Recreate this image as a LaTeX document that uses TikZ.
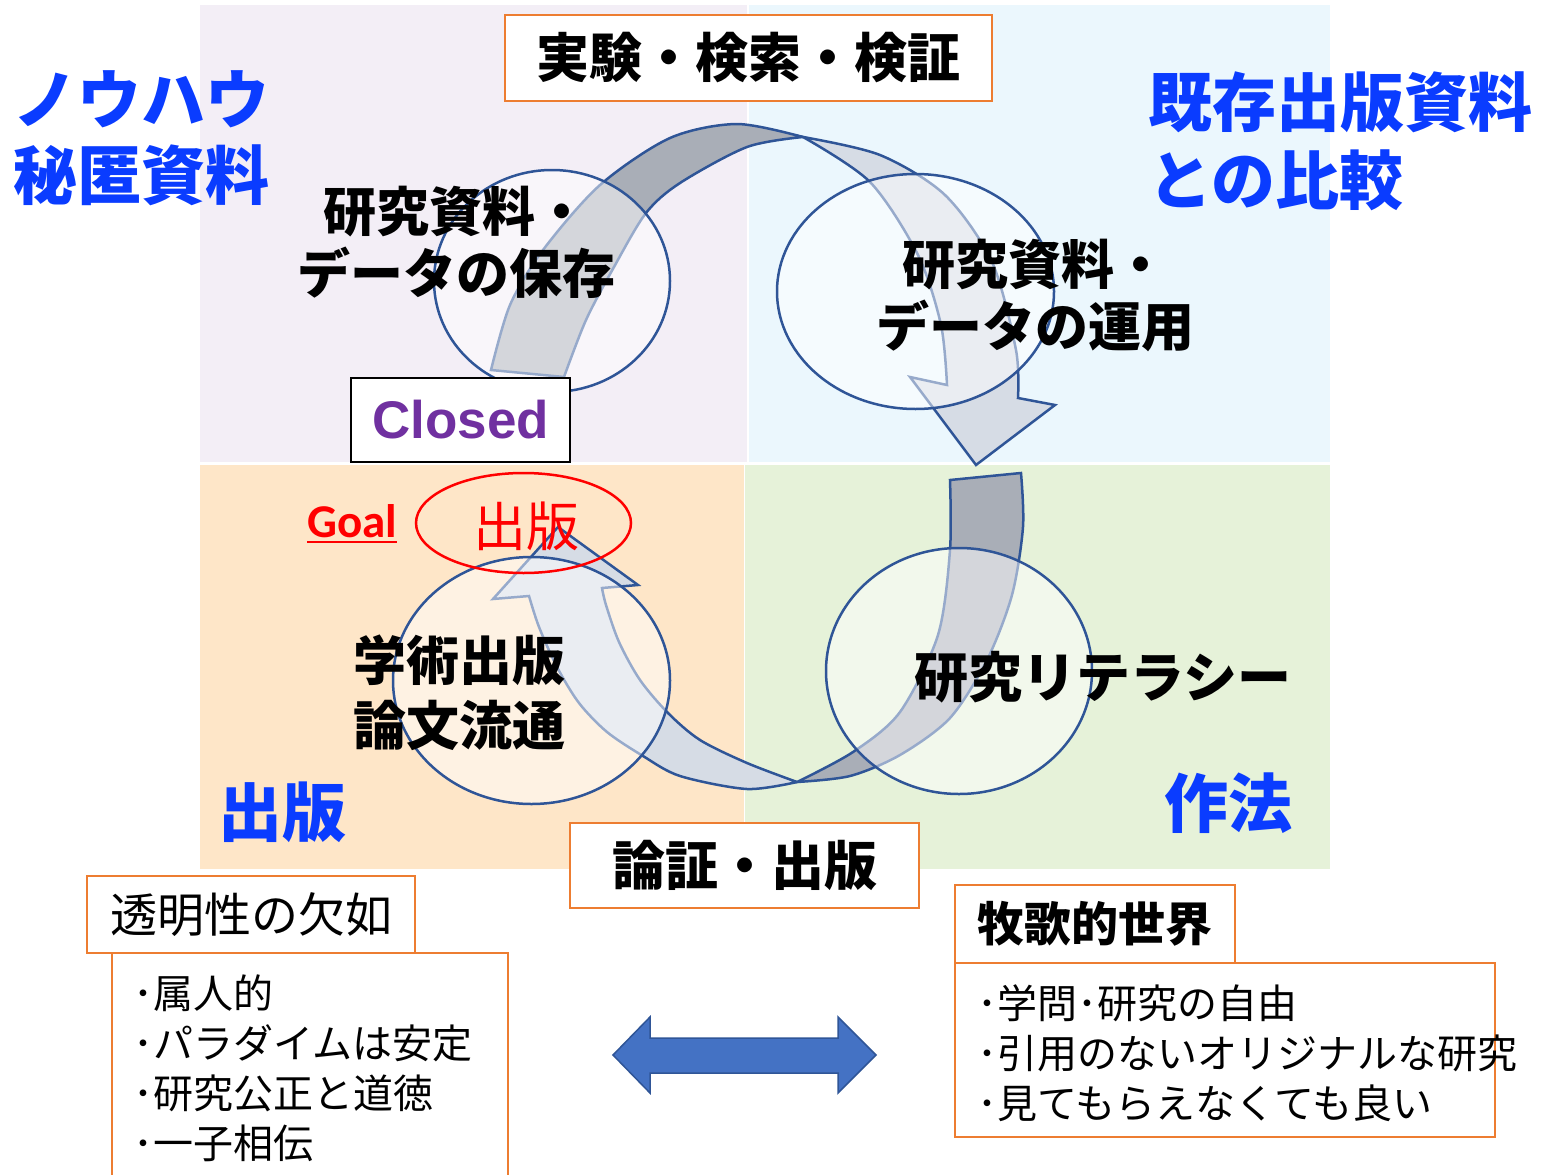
\documentclass[tikz,border=0pt]{standalone}
\usepackage{fontspec}
\setmainfont{Noto Sans CJK JP}
\newfontfamily\libsans{Liberation Sans}
\newfontfamily\carlito{Carlito}
\definecolor{bgTL}{HTML}{F3EEF6}
\definecolor{bgTR}{HTML}{EBF7FD}
\definecolor{bgBL}{HTML}{FEE6C8}
\definecolor{bgBR}{HTML}{E6F2D9}
\definecolor{lineblue}{HTML}{2F5597}
\definecolor{arrdarkc}{HTML}{A9AEB7}
\definecolor{arrlightc}{HTML}{D6DCE5}
\definecolor{boxorange}{HTML}{ED7D31}
\definecolor{txtblue}{HTML}{0A3CFF}
\definecolor{txtpurple}{HTML}{7030A0}
\definecolor{dblarrow}{HTML}{4472C4}
\begin{document}
\begin{tikzpicture}[x=1pt,y=-1pt,
  jpb/.style={font=\bfseries\fontsize{53}{62}\selectfont, inner sep=0pt, align=center},
  bluelbl/.style={font=\bfseries\fontsize{64}{76}\selectfont, text=txtblue, inner sep=0pt, align=left},
  obox/.style={draw=boxorange, line width=2pt, fill=white, inner sep=0pt},
  listtxt/.style={font=\fontsize{40}{50}\selectfont, inner sep=0pt, align=left},
  band/.style={draw=lineblue, line width=2.5pt},
  ring/.style={draw=lineblue, line width=2.5pt, fill=white, fill opacity=0.5, draw opacity=1}
]
\useasboundingbox (0,0) rectangle (1545,1175);
\clip (0,0) rectangle (1545,1175);
\fill[white] (0,0) rectangle (1545,1175);
% quadrants
\fill[bgTL] (200,5) rectangle (747,462);
\fill[bgTR] (749,5) rectangle (1330,462);
\fill[bgBL] (200,465) rectangle (744,869);
\fill[bgBR] (745,465) rectangle (1330,869);

% curved arrow 1 (top)
\path[band, fill=arrdarkc] plot[smooth] coordinates {(491,370) (510,305) (543,250) (600,185) (670,138) (737,124) (803,137)}
  -- plot[smooth] coordinates {(803,137) (747,147) (680,183) (646,213) (614,267) (586,320) (564,377)} -- cycle;
\path[band, fill=arrlightc] plot[smooth] coordinates {(803,137) (880,155) (945,195) (992,262) (1016,350) (1018,398)}
  -- (1055,405) -- (976,465) -- (910,377) -- (947,385)
  -- plot[smooth] coordinates {(947,385) (941,325) (918,255) (870,182) (803,137)} -- cycle;

% curved arrow 2 (bottom)
\path[band, fill=arrdarkc] plot[smooth] coordinates {(1021,473) (1023,527) (1012,595) (987,660) (950,718) (900,755) (850,776) (797,782)}
  -- plot[smooth] coordinates {(797,782) (853,752) (900,712) (938,635) (950,550) (950,480)} -- cycle;
\path[band, fill=arrlightc] plot[smooth] coordinates {(797,782) (747,763) (700,740) (668,713) (640,680) (619,642) (606,605) (602,588)}
  -- (638,585) -- (558,527) -- (493,599) -- (529,596)
  -- plot[smooth] coordinates {(529,596) (539,627) (557,667) (579,703) (607,732) (643,756) (680,776) (747,789) (797,782)} -- cycle;

% circles
\path[ring] (552,281) ellipse [x radius=118, y radius=111];
\path[ring] (915.5,291.5) ellipse [x radius=138.5, y radius=117.5];
\path[ring] (531.5,680.5) ellipse [x radius=138.5, y radius=123.5];
\path[ring] (959,671) ellipse [x radius=133, y radius=123];

% goal ellipse
\draw[red, line width=2.5pt] (523.5,523) ellipse [x radius=107.5, y radius=50];
\node[font=\fontsize{53}{60}\selectfont, text=red, inner sep=0pt] (goalpub) at (526,526) {出版};
\node[font=\carlito\bfseries\fontsize{47}{50}\selectfont, text=red, inner sep=0pt, anchor=base west] (goal) at (307,537) {Goal};
\draw[red, line width=2.5pt] ([yshift=-5pt]goal.base west) -- ([yshift=-5pt]goal.base east);

% circle texts
\node[jpb] (save) at (456,242) {研究資料・\\データの保存};
\node[jpb] (use) at (1035,295) {研究資料・\\データの運用};
\node[jpb, font=\bfseries\fontsize{53}{65}\selectfont] (pub) at (459,693) {学術出版\\論文流通};
\node[jpb, font=\bfseries\fontsize{54}{62}\selectfont] (lit) at (1103,677) {研究リテラシー};

% blue corner labels
\node[bluelbl, anchor=west] (knowhow) at (13,138) {ノウハウ\\秘匿資料};
\node[bluelbl, anchor=west, font=\bfseries\fontsize{64}{78}\selectfont] (compare) at (1148,141) {既存出版資料\\との比較};
\node[bluelbl] (pubblue) at (282,812) {出版};
\node[bluelbl] (manner) at (1228,803) {作法};

% title boxes
\node[obox, minimum width=487pt, minimum height=86pt, font=\bfseries\fontsize{53}{60}\selectfont] (exp) at (748.5,58) {実験・検索・検証};
\node[obox, minimum width=349pt, minimum height=85pt, font=\bfseries\fontsize{53}{60}\selectfont] (arg) at (744.5,865.5) {論証・出版};
\node[draw=black, line width=2.5pt, fill=white, minimum width=219pt, minimum height=84pt, inner sep=0pt,
      font=\libsans\bfseries\fontsize{53}{58}\selectfont, text=txtpurple] (closed) at (460.5,420) {Closed};

% bottom-left lists
\draw[boxorange, line width=2pt, fill=white] (112,1185) -- (112,953) -- (508,953) -- (508,1185);
\node[obox, minimum width=328pt, minimum height=77pt, font=\fontsize{47}{50}\selectfont] (transp) at (251,914.5) {透明性の欠如};
\node[listtxt, anchor=west] (leftlist) at (133,1068) {･属人的\\･パラダイムは安定\\･研究公正と道徳\\･一子相伝};

% bottom-right lists
\draw[boxorange, line width=2pt, fill=white] (955,963) rectangle (1495,1137);
\node[obox, minimum width=280pt, minimum height=78pt, font=\bfseries\fontsize{47}{50}\selectfont] (idyll) at (1095,924) {牧歌的世界};
\node[listtxt, anchor=west] (rightlist) at (977,1053) {･学問･研究の自由\\･引用のないオリジナルな研究\\･見てもらえなくても良い};

% double arrow
\path[fill=dblarrow, draw=lineblue, line width=1.5pt]
  (613,1055) -- (650,1017) -- (650,1038) -- (838,1038) -- (838,1017) -- (876,1055)
  -- (838,1093) -- (838,1073) -- (650,1073) -- (650,1093) -- cycle;
\end{tikzpicture}
\end{document}
